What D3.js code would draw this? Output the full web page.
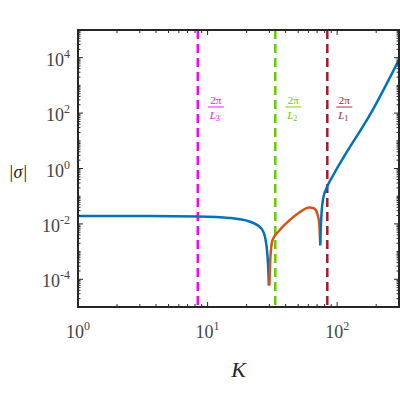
<!DOCTYPE html><html><head><meta charset="utf-8"><script src="https://cdn.jsdelivr.net/npm/d3@7"></script>
<style>body{margin:0;background:#fff}text{font-family:"Liberation Serif","DejaVu Serif",serif}</style></head><body><svg id="c" width="400" height="400"></svg><script>
const blue1K=[1,3.58,8.38,14.8,21.0,26.0,27.9,28.9,29.5,29.7];
const blue1S=[0.0193,0.0193,0.0185,0.0163,0.0122,0.00682,0.00297,8.5e-4,1.6e-4,6e-5];
const orangeK=[30.0,30.5,31.6,35.8,42.7,51.0,60.9,66.5,70.2,72.7,74.0];
const orangeS=[6e-5,5.6e-4,2.5e-3,5.8e-3,0.0133,0.0258,0.039,0.036,0.0237,0.0103,1.96e-3];
const blue2K=[74.0,75.3,78.0,83.8,94.8,113,176,295];
const blue2S=[1.66e-3,0.0157,0.0826,0.224,0.66,2.71,75.4,7300];
const vlinesK=[8.4,33.3,83.9];
const vlineColors=["#ff00ff","#66cc00","#a51c30"];
const vlineLabels=["3","2","1"];
const xTicks=[1,10,100];const xExp=["0","1","2"];
const yTicks=[1e-4,1e-2,1,1e2,1e4];const yExp=["-4","-2","0","2","4"];
const svg=d3.select("#c");
const L=78,R=399,T=30,B=307;
const x=d3.scaleLog().domain([1,300]).range([L,R]);
const y=d3.scaleLog().domain([1e-5,1e5]).range([B,T]);
const g=svg.append("g");
svg.append("clipPath").attr("id","cp").append("rect").attr("x",L).attr("y",T).attr("width",R-L).attr("height",B-T);
vlinesK.forEach((k,i)=>{g.append("line").attr("x1",x(k)).attr("x2",x(k)).attr("y1",T).attr("y2",B).attr("stroke",vlineColors[i]).attr("stroke-width",2.5).attr("stroke-dasharray","9,5");});
const line=d3.line().x(d=>x(d[0])).y(d=>y(d[1])).curve(d3.curveMonotoneX);
const pg=svg.append("g").attr("clip-path","url(#cp)");
pg.append("path").datum(d3.zip(blue1K,blue1S)).attr("d",line).attr("fill","none").attr("stroke","#0072bd").attr("stroke-width",2.5);
pg.append("path").datum(d3.zip(orangeK,orangeS)).attr("d",line).attr("fill","none").attr("stroke","#d95319").attr("stroke-width",2.5);
pg.append("path").datum(d3.zip(blue2K,blue2S)).attr("d",line).attr("fill","none").attr("stroke","#0072bd").attr("stroke-width",2.5);
const labX=[x(8.4)+18,x(33.3)+18,x(83.9)+17];
vlinesK.forEach((k,i)=>{const cx=labX[i],c=vlineColors[i];
 svg.append("text").attr("x",cx).attr("y",104).attr("text-anchor","middle").attr("font-size",11).attr("fill",c).text("2π");
 svg.append("line").attr("x1",cx-8).attr("x2",cx+8).attr("y1",107).attr("y2",107).attr("stroke",c).attr("stroke-width",0.9);
 const t=svg.append("text").attr("x",cx-1).attr("y",119).attr("text-anchor","middle").attr("font-size",11).attr("fill",c);
 t.append("tspan").attr("font-style","italic").text("L");
 t.append("tspan").attr("font-size",8).attr("dy",2).text(vlineLabels[i]);});
const minorX=[];for(let d=1;d<=100;d*=10)for(let m=1;m<10;m++){const v=d*m;if(v<=300)minorX.push(v);}
minorX.forEach(v=>{const major=xTicks.includes(v);const len=major?5:3;
 svg.append("line").attr("x1",x(v)).attr("x2",x(v)).attr("y1",B).attr("y2",B-len).attr("stroke","#262626");
 svg.append("line").attr("x1",x(v)).attr("x2",x(v)).attr("y1",T).attr("y2",T+len).attr("stroke","#262626");});
for(let e=-5;e<5;e++)for(let m=1;m<10;m++){const v=m*Math.pow(10,e);const major=(m==1&&e%2==0);const len=major?5:2.5;
 svg.append("line").attr("x1",L).attr("x2",L+len).attr("y1",y(v)).attr("y2",y(v)).attr("stroke","#262626");
 svg.append("line").attr("x1",R).attr("x2",R-len).attr("y1",y(v)).attr("y2",y(v)).attr("stroke","#262626");}
svg.append("rect").attr("x",L).attr("y",T).attr("width",R-L).attr("height",B-T).attr("fill","none").attr("stroke","#262626").attr("stroke-width",2);
xTicks.forEach((v,i)=>{const t=svg.append("text").attr("x",x(v)).attr("y",338).attr("text-anchor","middle").attr("font-size",18).attr("fill","#444");
 t.append("tspan").text("10");t.append("tspan").attr("font-size",12).attr("dy",-8).text(xExp[i]);});
yTicks.forEach((v,i)=>{const t=svg.append("text").attr("x",70).attr("y",y(v)+8).attr("text-anchor","end").attr("font-size",18).attr("fill","#444");
 t.append("tspan").text("10");t.append("tspan").attr("font-size",12).attr("dy",-8).text(yExp[i]);});
svg.append("text").attr("x",(L+R)/2).attr("y",377).attr("text-anchor","middle").attr("font-size",22).attr("font-style","italic").attr("fill","#222").text("K");
svg.append("text").attr("x",18).attr("y",178).attr("text-anchor","middle").attr("font-size",18).attr("font-style","italic").attr("fill","#222").text("|σ|");
</script></body></html>
